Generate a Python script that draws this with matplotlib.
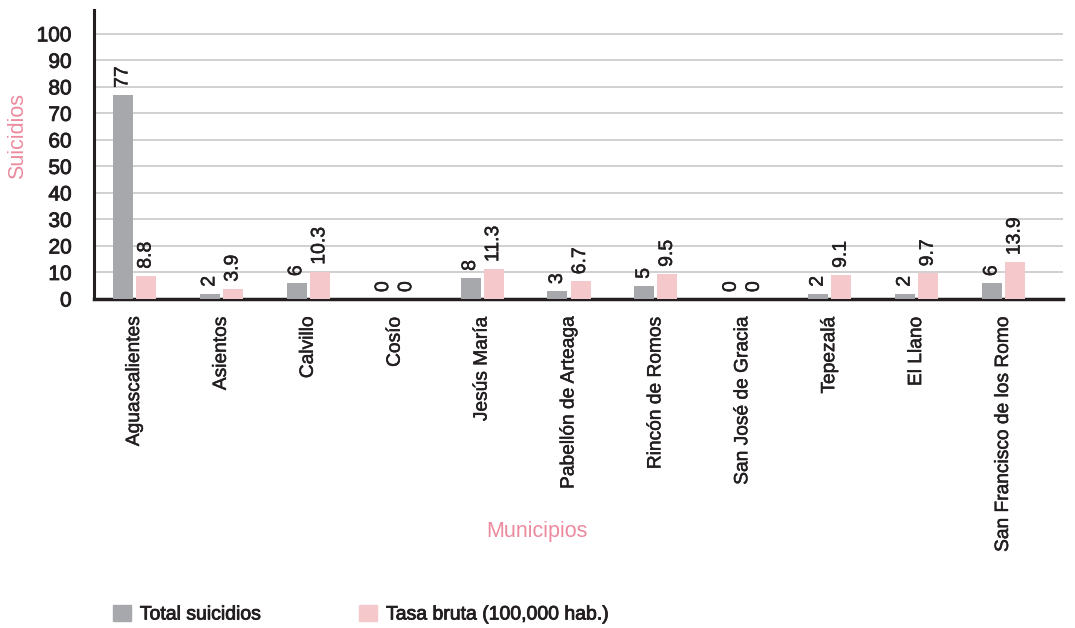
import matplotlib
matplotlib.use("Agg")
import matplotlib.pyplot as plt
import matplotlib.patheffects as pe
import numpy as np
from matplotlib.patches import Patch

municipios = ["Aguascalientes", "Asientos", "Calvillo", "Cosío", "Jesús María",
              "Pabellón de Arteaga", "Rincón de Romos", "San José de Gracia",
              "Tepezalá", "El Llano", "San Francisco de los Romo"]
total_suicidios = [77, 2, 6, 0, 8, 3, 5, 0, 2, 2, 6]
tasa_bruta = [8.8, 3.9, 10.3, 0, 11.3, 6.7, 9.5, 0, 9.1, 9.7, 13.9]
yticks = [0, 10, 20, 30, 40, 50, 60, 70, 80, 90, 100]

plt.rcParams['font.family'] = ['Liberation Sans', 'DejaVu Sans']

gray = "#a7a8ab"
pink = "#f5c9cc"
label_pink = "#ec8a9e"
dark = "#231f20"

thick = [pe.withStroke(linewidth=0.6, foreground=dark)]
thin = [pe.withStroke(linewidth=0.35, foreground=dark)]

fig = plt.figure(figsize=(10.75, 6.28), dpi=100)
ax = fig.add_axes([94/1075, 1-299/628, (1063-94)/1075, (299-10)/628])

x = np.arange(len(municipios))
w = 0.23
b1 = ax.bar(x - 0.133, total_suicidios, w, color=gray, zorder=3)
b2 = ax.bar(x + 0.133, tasa_bruta, w, color=pink, zorder=3)

def fmt(v):
    return f"{v:g}"

for bars, vals in ((b1, total_suicidios), (b2, tasa_bruta)):
    for r, v in zip(bars, vals):
        ax.annotate(fmt(v), (r.get_x() + r.get_width()/2, v),
                    xytext=(0, 5), textcoords="offset points",
                    rotation=90, ha="center", va="bottom",
                    fontsize=14, color=dark, path_effects=thin)

ax.set_xlim(-0.466, 10.685)
ax.set_ylim(0, 109)
ax.set_yticks(yticks)
ax.set_yticklabels([str(t) for t in yticks], fontsize=15, color=dark)
ax.set_xticks(x)
ax.set_xticklabels(municipios, rotation=90, fontsize=13.8, color=dark, va="top", ha="center")
ax.tick_params(axis="x", length=0, pad=13)
ax.tick_params(axis="y", length=0, pad=16)
for lbl in ax.get_yticklabels():
    lbl.set_path_effects(thick)
for lbl in ax.get_xticklabels():
    lbl.set_path_effects(thin)

ax.yaxis.grid(True, color="#c8c8c8", linewidth=1.2, zorder=0)
ax.set_axisbelow(True)
for s in ("top", "right"):
    ax.spines[s].set_visible(False)
ax.spines["left"].set_color(dark)
ax.spines["bottom"].set_color(dark)
ax.spines["left"].set_linewidth(2.2)
ax.spines["bottom"].set_linewidth(2.5)

fig.text(18/1075, 1-136/628, "Suicidios", rotation=90, ha="center", va="center",
         fontsize=15.5, color=label_pink)
fig.text(537/1075, 1-532/628, "Municipios", ha="center", va="center",
         fontsize=15.5, color=label_pink)

handles = [Patch(color=gray, label="Total suicidios"),
           Patch(color=pink, label="Tasa bruta (100,000 hab.)")]
leg = fig.legend(handles=handles, loc="center left", bbox_to_anchor=(113/1075, 1-614/628),
                 ncol=2, frameon=False, fontsize=14, handlelength=0.93, handleheight=0.93,
                 columnspacing=5.0, handletextpad=0.45, borderpad=0, borderaxespad=0)
for t in leg.get_texts():
    t.set_color(dark)
    t.set_path_effects(thick)

fig.savefig("out.png", dpi=100)
